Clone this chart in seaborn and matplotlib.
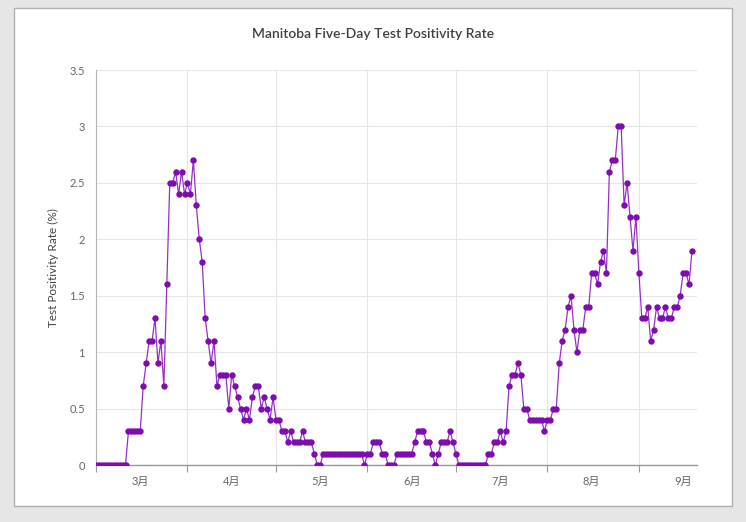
import numpy as np
import pandas as pd
import matplotlib
matplotlib.use("Agg")
import matplotlib.pyplot as plt
import matplotlib.dates as mdates
from matplotlib.ticker import FixedLocator, FixedFormatter, NullFormatter
from matplotlib.patches import Rectangle
import seaborn as sns

# ---------------- data ----------------
start_date = "2020-03-01"
rates = [
    0, 0, 0, 0, 0, 0, 0, 0, 0, 0, 0,
    0.3, 0.3, 0.3, 0.3, 0.3,
    0.7, 0.9, 1.1, 1.1, 1.3, 0.9, 1.1, 0.7, 1.6,
    2.5, 2.5, 2.6, 2.4, 2.6, 2.4, 2.5, 2.4, 2.7,
    2.3, 2.0, 1.8, 1.3, 1.1, 0.9, 1.1, 0.7, 0.8, 0.8, 0.8,
    0.5, 0.8, 0.7, 0.6, 0.5, 0.4, 0.5, 0.4, 0.6, 0.7, 0.7,
    0.5, 0.6, 0.5, 0.4, 0.6, 0.4, 0.4, 0.3, 0.3, 0.2, 0.3,
    0.2, 0.2, 0.2, 0.3, 0.2, 0.2, 0.2, 0.1, 0, 0,
    0.1, 0.1, 0.1, 0.1, 0.1, 0.1, 0.1, 0.1, 0.1, 0.1, 0.1, 0.1, 0.1, 0.1,
    0, 0.1, 0.1, 0.2, 0.2, 0.2, 0.1, 0.1, 0, 0, 0,
    0.1, 0.1, 0.1, 0.1, 0.1, 0.1,
    0.2, 0.3, 0.3, 0.3, 0.2, 0.2, 0.1, 0, 0.1, 0.2, 0.2, 0.2, 0.3, 0.2, 0.1,
    0, 0, 0, 0, 0, 0, 0, 0, 0, 0,
    0.1, 0.1, 0.2, 0.2, 0.3, 0.2, 0.3, 0.7, 0.8, 0.8, 0.9, 0.8, 0.5, 0.5,
    0.4, 0.4, 0.4, 0.4, 0.4, 0.3, 0.4, 0.4, 0.5, 0.5,
    0.9, 1.1, 1.2, 1.4, 1.5, 1.2, 1.0, 1.2, 1.2, 1.4, 1.4, 1.7, 1.7, 1.6, 1.8, 1.9, 1.7,
    2.6, 2.7, 2.7, 3.0, 3.0, 2.3, 2.5, 2.2, 1.9, 2.2, 1.7,
    1.3, 1.3, 1.4, 1.1, 1.2, 1.4, 1.3, 1.3, 1.4, 1.3, 1.3, 1.4, 1.4, 1.5, 1.7, 1.7, 1.6, 1.9,
]
month_numbers = [3, 4, 5, 6, 7, 8, 9]
month_labels = ["3月", "4月", "5月", "6月", "7月", "8月", "9月"]
y_ticks = [0, 0.5, 1, 1.5, 2, 2.5, 3, 3.5]
y_tick_labels = ["0", "0.5", "1", "1.5", "2", "2.5", "3", "3.5"]
title = "Manitoba Five-Day Test Positivity Rate"
y_label = "Test Positivity Rate (%)"

df = pd.DataFrame({
    "date": pd.date_range(start_date, periods=len(rates), freq="D"),
    "rate": rates,
})

# ---------------- style ----------------
sns.set_theme(style="white")
plt.rcParams["font.family"] = ["Lato", "Noto Sans CJK JP", "DejaVu Sans"]

W, H = 746, 522
fig = plt.figure(figsize=(W / 100, H / 100), dpi=100, facecolor="#e6e6e6")
fig.patches.append(Rectangle((14 / W, 1 - 506 / H), (732 - 14) / W, (506 - 8) / H,
                             transform=fig.transFigure, facecolor="white",
                             edgecolor="#b0b0b0", linewidth=1.0, zorder=-5))

ax = fig.add_axes([96 / W, 1 - 465 / H, 601 / W, 395 / H])
ax.set_facecolor("white")
ax.set_zorder(2)

sns.lineplot(data=df, x="date", y="rate", ax=ax, color="#9830c8", linewidth=0.9,
             marker="o", markersize=4.6, markerfacecolor="#7e0cae",
             markeredgecolor="#7e0cae", markeredgewidth=0, zorder=3)

t0 = pd.Timestamp(start_date)
ax.set_xlim(t0, t0 + pd.Timedelta(days=203.7))
ax.set_ylim(0, 3.5)

# x axis: month boundaries as ticks/grid, labels mid-month
ax.xaxis.set_major_locator(mdates.MonthLocator())
ax.xaxis.set_major_formatter(NullFormatter())
mid_positions = [mdates.date2num(pd.Timestamp(2020, m, 16)) for m in month_numbers]
ax.xaxis.set_minor_locator(FixedLocator(mid_positions))
ax.xaxis.set_minor_formatter(FixedFormatter(month_labels))
ax.tick_params(axis="x", which="major", length=5, width=0.8, color="#999999",
               direction="out", bottom=True)
ax.tick_params(axis="x", which="minor", length=0, pad=8, labelsize=8,
               labelcolor="#666666", bottom=True)

ax.set_yticks(y_ticks)
ax.set_yticklabels(y_tick_labels)
ax.tick_params(axis="y", length=0, pad=8, labelsize=8, labelcolor="#666666")

ax.grid(axis="y", color="#e6e6e6", linewidth=0.8)
ax.grid(axis="x", which="major", color="#e6e6e6", linewidth=0.8)
ax.set_axisbelow(True)

for s in ["top", "right"]:
    ax.spines[s].set_visible(False)
ax.spines["left"].set_color("#b5b5b5")
ax.spines["left"].set_linewidth(0.8)
ax.spines["bottom"].set_color("#999999")
ax.spines["bottom"].set_linewidth(1.0)

ax.set_xlabel("")
ax.set_ylabel(y_label, fontsize=8.5, color="#444444")
ax.yaxis.set_label_coords((59 - 96) / 601, 0.5)

fig.text(373 / W, 1 - 34 / H, title, ha="center", va="center",
         fontsize=10, fontweight="semibold", color="#404040")

fig.savefig("out.png", dpi=100, facecolor=fig.get_facecolor())
